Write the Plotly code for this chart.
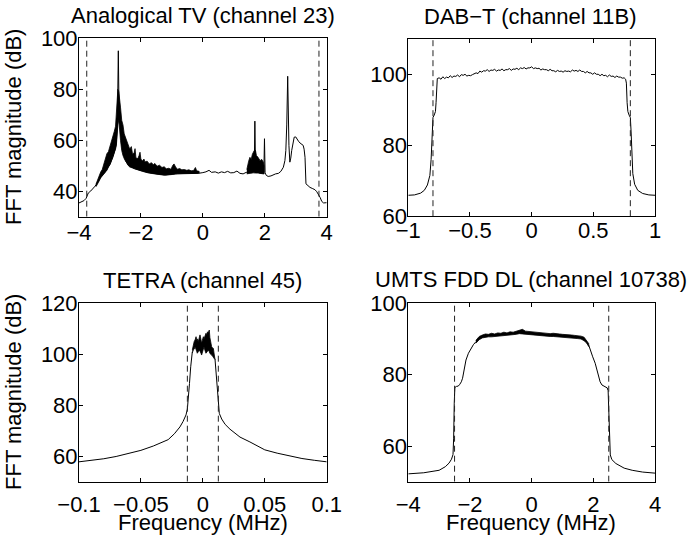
import plotly.graph_objects as go

# ---------------- data ----------------
# Panel 1: Analogical TV (channel 23)
tv_f = [-4.00, -3.92, -3.84, -3.77, -3.73, -3.70, -3.62, -3.55, -3.48, -3.40, -3.30, -3.20,
        -3.00, -2.90, -2.80, -2.76, -2.745, -2.73, -2.715, -2.70, -2.66, -2.60, -2.50, -2.40,
        -2.20, -2.00, -1.80, -1.50, -1.20, -0.90, -0.60, -0.30, -0.15,
        0.00, 0.10, 0.20, 0.28, 0.40, 0.50, 0.60, 0.70, 0.80, 0.90, 1.00, 1.10, 1.20, 1.30, 1.40,
        1.50, 1.60, 1.66, 1.68, 1.70, 1.80, 1.90, 1.97, 1.99, 2.01, 2.05, 2.11, 2.20, 2.27, 2.35,
        2.44, 2.52, 2.60, 2.65, 2.68, 2.71, 2.74, 2.76, 2.78, 2.81, 2.84, 2.87, 2.91, 2.95, 3.00,
        3.03, 3.09, 3.14, 3.20, 3.24, 3.27, 3.30, 3.33, 3.40, 3.46, 3.55, 3.62, 3.68, 3.73, 3.79,
        3.84, 3.90, 4.00]
tv_db = [35.4, 35.7, 36.3, 37.2, 38.6, 39.3, 40.1, 40.9, 42.0, 43.5, 45.6, 46.8,
         50.5, 53.5, 58.0, 66.0, 80.0, 95.1, 80.0, 72.0, 64.0, 57.0, 52.0, 50.1,
         48.8, 48.1, 47.4, 46.8, 46.4, 46.8, 46.8, 46.8, 47.0,
         47.3, 47.6, 48.2, 47.4, 47.6, 47.1, 47.6, 47.3, 47.8, 47.2, 47.3, 47.9, 47.0, 46.8, 47.4,
         47.2, 47.2, 48.0, 67.5, 50.0, 47.2, 47.0, 47.5, 60.6, 47.2, 46.2, 45.8, 46.0, 46.5, 46.8,
         47.0, 47.8, 49.4, 52.0, 56.0, 66.0, 85.1, 68.0, 58.0, 51.4, 53.0, 56.0, 59.5, 61.2, 61.3,
         60.6, 59.6, 58.9, 58.5, 58.0, 56.5, 53.3, 42.9, 42.0, 41.5, 41.0, 40.6, 39.8, 38.9, 37.5,
         36.0, 35.4, 35.5]
tv_band1_f = [-3.45, -3.40, -3.35, -3.30, -3.25, -3.20, -3.15, -3.10, -3.05, -3.00, -2.95, -2.90,
              -2.86, -2.82, -2.79, -2.76, -2.745, -2.715, -2.69, -2.66, -2.62, -2.58, -2.54, -2.50,
              -2.46, -2.41, -2.36, -2.31, -2.27, -2.22, -2.19, -2.16, -2.10, -2.06, -2.03, -2.00,
              -1.95, -1.90, -1.87, -1.80, -1.73, -1.66, -1.60, -1.55, -1.48, -1.40, -1.32, -1.25,
              -1.18, -1.10, -1.03, -0.97, -0.93, -0.88, -0.82, -0.75, -0.68, -0.60, -0.52, -0.45,
              -0.38, -0.30, -0.24, -0.20, -0.12]
tv_band1_hi = [42.8, 44.5, 45.8, 47.5, 48.5, 50.5, 52.0, 54.7, 55.5, 57.5, 59.9, 61.0,
               63.5, 65.5, 70.0, 75.0, 80.0, 79.0, 77.0, 73.0, 67.8, 66.0, 62.5, 61.2,
               60.0, 58.6, 56.5, 57.5, 54.5, 55.0, 56.7, 53.0, 52.8, 54.0, 55.3, 52.5,
               52.0, 52.6, 51.5, 51.8, 50.7, 51.2, 50.4, 50.9, 49.8, 50.2, 49.3, 49.6,
               48.8, 49.0, 48.6, 50.2, 50.7, 49.5, 48.6, 48.9, 48.4, 48.5, 48.2, 48.4,
               48.0, 48.1, 49.3, 48.0, 47.8]
tv_band1_lo = [41.8, 43.0, 44.0, 45.2, 45.8, 46.8, 47.5, 48.1, 49.5, 50.5, 52.0, 53.5,
               55.0, 56.5, 58.5, 61.0, 66.0, 68.0, 64.0, 60.0, 56.0, 54.0, 52.8, 52.0,
               51.0, 50.1, 49.5, 49.3, 49.2, 49.0, 48.8, 48.6, 48.4, 48.2, 48.1, 48.0,
               47.8, 47.6, 47.4, 47.3, 47.1, 47.0, 46.9, 46.8, 46.6, 46.5, 46.4, 46.3,
               46.2, 46.4, 46.5, 46.6, 46.8, 46.8, 46.9, 47.0, 47.0, 47.0, 46.9, 47.0,
               47.0, 46.9, 47.0, 47.1, 47.1]
tv_band2_f = [1.42, 1.45, 1.48, 1.52, 1.56, 1.60, 1.63, 1.66, 1.70, 1.73, 1.77, 1.81, 1.85,
              1.90, 1.95, 1.98]
tv_band2_hi = [48.5, 50.7, 51.8, 53.3, 52.4, 54.5, 55.3, 56.0, 56.0, 54.0, 53.5, 52.5, 52.0,
               52.5, 51.5, 50.0]
tv_band2_lo = [46.8, 46.9, 47.0, 47.0, 47.1, 47.2, 47.2, 47.3, 47.2, 47.2, 47.1, 47.1, 47.0,
               47.0, 46.8, 46.8]
tv_edges = [-3.75, 3.75]

# Panel 2: DAB-T (channel 11B)
dab_f = [-1.00, -0.95, -0.90, -0.87, -0.845, -0.825, -0.815, -0.808, -0.80, -0.79, -0.78, -0.775,
         -0.77, -0.765, -0.75, -0.735, -0.72, -0.705, -0.69, -0.675, -0.66, -0.645, -0.63, -0.615,
         -0.60, -0.585, -0.57, -0.555, -0.54, -0.525, -0.51, -0.495, -0.48, -0.465, -0.45, -0.435,
         -0.42, -0.405, -0.39, -0.375, -0.36, -0.345, -0.33, -0.315, -0.30, -0.285, -0.27, -0.255,
         -0.24, -0.225, -0.21, -0.195, -0.18, -0.165, -0.15, -0.135, -0.12, -0.105, -0.09, -0.075,
         -0.06, -0.045, -0.03, -0.015, 0.0, 0.015, 0.03, 0.045, 0.06, 0.075, 0.09, 0.105, 0.12,
         0.135, 0.15, 0.165, 0.18, 0.195, 0.21, 0.225, 0.24, 0.255, 0.27, 0.285, 0.30, 0.315, 0.33,
         0.345, 0.36, 0.375, 0.39, 0.405, 0.42, 0.435, 0.45, 0.465, 0.48, 0.495, 0.51, 0.525, 0.54,
         0.555, 0.57, 0.585, 0.60, 0.615, 0.63, 0.645, 0.66, 0.675, 0.69, 0.705, 0.72, 0.735, 0.75,
         0.762, 0.768, 0.774, 0.78, 0.79, 0.80, 0.806, 0.812, 0.82, 0.835, 0.86, 0.90, 0.95, 1.00]
dab_db = [65.9, 66.0, 66.5, 67.3, 68.8, 71.5, 76.0, 84.0, 87.8, 88.5, 89.5, 92.0,
          97.5, 98.8, 99.0, 98.6, 99.3, 98.8, 99.2, 99.0, 99.6, 99.1, 99.5, 99.4,
          99.8, 99.3, 99.9, 99.7, 100.0, 99.5, 99.7, 99.6, 99.9, 100.1, 100.4, 100.2,
          100.9, 100.6, 101.0, 100.9, 101.3, 100.8, 101.2, 101.1, 101.4, 100.9, 101.2, 101.1,
          101.5, 101.0, 101.3, 101.3, 101.6, 101.1, 101.5, 101.4, 101.7, 101.3, 101.8, 101.6,
          101.9, 101.5, 101.8, 101.8, 102.1, 101.6, 101.8, 101.6, 101.7, 101.2, 101.5, 101.3, 101.3,
          101.0, 101.4, 101.0, 101.0, 100.7, 101.1, 100.8, 100.9, 100.6, 101.0, 100.8, 100.9, 100.7, 101.2,
          100.9, 101.1, 100.8, 101.2, 100.8, 100.8, 100.4, 100.8, 100.4, 100.4, 100.0, 100.4, 100.0, 100.0,
          99.6, 100.0, 99.6, 99.7, 99.3, 99.8, 99.4, 99.5, 99.1, 99.5, 99.2, 99.2, 98.9, 99.0,
          98.6, 97.5, 92.0, 89.5, 88.5, 87.8, 84.0, 77.0, 72.0, 69.0, 67.3, 66.4, 66.0, 65.9]
dab_edges = [-0.8, 0.8]

# Panel 3: TETRA (channel 45) - skirts left/right of the noisy top band
tetra_left_f = [-0.100, -0.090, -0.080, -0.070, -0.060, -0.050, -0.040, -0.032, -0.028, -0.023,
                -0.0185, -0.016, -0.0136, -0.0125, -0.0117, -0.0108, -0.0098, -0.0090, -0.0085]
tetra_left_db = [57.8, 58.3, 59.0, 59.9, 61.0, 62.3, 64.0, 65.6, 66.5, 68.8,
                 71.5, 73.6, 76.2, 78.5, 82.1, 88.5, 95.1, 99.5, 101.0]
tetra_right_f = [0.0098, 0.0106, 0.0117, 0.0126, 0.0133, 0.0152, 0.0180, 0.0219, 0.030, 0.038,
                 0.050, 0.060, 0.070, 0.080, 0.090, 0.100]
tetra_right_db = [98.2, 92.5, 84.7, 79.5, 76.8, 74.6, 72.5, 70.6, 67.5, 65.6,
                  62.5, 61.2, 60.1, 59.1, 58.4, 57.8]
tetra_band_f = [-0.0085, -0.0077, -0.0070, -0.0063, -0.0055, -0.0050, -0.0045, -0.0037, -0.0028,
                -0.0023, -0.0016, -0.0010, -0.0004, 0.0004, 0.0009, 0.0017, 0.0025, 0.0031, 0.0038,
                0.0044, 0.0052, 0.0057, 0.0063, 0.0071, 0.0078, 0.0085, 0.0090, 0.0098]
tetra_band_hi = [101.7, 104.3, 105.0, 105.6, 106.9, 105.8, 106.0, 105.0, 106.5,
                 107.6, 106.0, 104.3, 105.5, 106.9, 106.0, 107.5, 108.2, 107.8, 108.8,
                 108.5, 109.5, 106.5, 104.3, 103.0, 102.5, 102.3, 100.5, 98.4]
tetra_band_lo = [100.5, 101.7, 102.0, 103.0, 102.2, 101.2, 100.4, 101.0, 101.7,
                 101.2, 100.5, 99.7, 100.8, 102.0, 103.0, 101.5, 100.4, 100.8, 101.2,
                 101.7, 101.0, 100.3, 100.0, 99.7, 99.3, 99.0, 98.4, 98.0]
tetra_edges = [-0.0125, 0.0125]

# Panel 4: UMTS FDD DL (channel 10738) - skirts left/right of the noisy top band
umts_left_f = [-4.0, -3.5, -3.0, -2.8, -2.68, -2.6, -2.55, -2.53, -2.51, -2.49, -2.44, -2.38, -2.33,
               -2.28, -2.24, -2.19, -2.13, -2.05, -1.97, -1.89, -1.81]
umts_left_db = [52.2, 52.5, 53.2, 54.2, 55.2, 56.3, 57.6, 62.0, 72.0, 76.4, 76.7, 76.8, 77.3,
                78.0, 79.0, 81.5, 84.1, 86.0, 87.4, 88.4, 89.2]
umts_right_f = [1.85, 1.90, 1.98, 2.06, 2.12, 2.17, 2.22, 2.28, 2.33, 2.39, 2.45, 2.48, 2.50, 2.52,
                2.55, 2.60, 2.73, 3.0, 3.26, 3.6, 4.0]
umts_right_db = [88.3, 86.9, 85.0, 83.2, 81.2, 79.4, 78.0, 77.1, 76.8, 76.6, 76.3, 75.5, 70.0, 62.0,
                 57.5, 56.2, 55.1, 53.8, 53.2, 52.7, 52.4]
umts_band_f = [-1.81, -1.70, -1.60, -1.50, -1.40, -1.30, -1.20, -1.10, -1.00, -0.90, -0.80,
               -0.70, -0.60, -0.50, -0.40, -0.30, -0.20, -0.10, 0.00, 0.10, 0.20, 0.30, 0.40,
               0.50, 0.60, 0.70, 0.80, 0.90, 1.00, 1.10, 1.20, 1.30, 1.40, 1.50, 1.60, 1.70,
               1.78, 1.85]
umts_band_hi = [89.6, 90.7, 91.1, 91.4, 91.3, 91.6, 91.4, 91.7, 91.6, 91.9, 91.7,
                92.0, 91.9, 92.2, 92.3, 92.7, 92.2, 92.1, 92.0, 91.9, 91.8, 91.8, 91.6,
                91.7, 91.5, 91.6, 91.4, 91.4, 91.3, 91.3, 91.1, 91.1, 91.0, 91.0, 90.8, 90.5,
                89.7, 88.7]
umts_band_lo = [88.8, 89.8, 90.3, 90.4, 90.6, 90.6, 90.5, 90.8, 90.9, 91.0, 90.9,
                91.1, 91.2, 91.3, 91.5, 91.6, 91.4, 91.3, 91.2, 91.1, 91.0, 90.9, 90.8,
                90.8, 90.7, 90.7, 90.6, 90.5, 90.5, 90.4, 90.3, 90.2, 90.2, 90.1, 90.0, 89.5,
                88.9, 87.9]
umts_edges = [-2.5, 2.5]

# axis limits and ticks
xlims = [[-4, 4], [-1, 1], [-0.1, 0.1], [-4, 4]]
ylims = [[30, 100], [60, 110], [50, 120], [50, 100]]
xticks = [[-4, -2, 0, 2, 4], [-1, -0.5, 0, 0.5, 1], [-0.1, -0.05, 0, 0.05, 0.1], [-4, -2, 0, 2, 4]]
yticks = [[40, 60, 80, 100], [60, 80, 100], [60, 80, 100, 120], [60, 80, 100]]
titles = ["Analogical TV (channel 23)", "DAB\u2212T (channel 11B)",
          "TETRA (channel 45)", "UMTS FDD DL (channel 10738)"]
ylabel = "FFT magnitude (dB)"
xlabel = "Frequency (MHz)"

# ---------------- figure ----------------
W, H = 698, 541
FONT = "Liberation Sans, Arial, Helvetica, sans-serif"
FS = 22

# plot boxes in pixels: (left, right, top, bottom)
boxes = [(79, 326.7, 38.3, 216.7), (408.3, 655, 38.8, 216.2),
         (79, 326.7, 303.3, 481.7), (408.3, 655, 303.3, 481.7)]

fig = go.Figure()
LINE = dict(color="black", width=1)


def band(fl, hi, lo, ax):
    fig.add_trace(go.Scatter(x=fl + fl[::-1], y=hi + lo[::-1], mode="lines", fill="toself",
                             fillcolor="black", line=dict(color="black", width=0.8),
                             xaxis=ax[0], yaxis=ax[1], hoverinfo="skip", showlegend=False))


def curve(fl, vals, ax):
    fig.add_trace(go.Scatter(x=fl, y=vals, mode="lines", line=LINE,
                             xaxis=ax[0], yaxis=ax[1], showlegend=False))


def edges(e, ylim, ax):
    for v in e:
        fig.add_trace(go.Scatter(x=[v, v], y=ylim, mode="lines",
                                 line=dict(color="#222222", width=1, dash="6px,4px"),
                                 xaxis=ax[0], yaxis=ax[1], hoverinfo="skip", showlegend=False))


axes = [("x", "y"), ("x2", "y2"), ("x3", "y3"), ("x4", "y4")]

curve(tv_f, tv_db, axes[0])
band(tv_band1_f, tv_band1_hi, tv_band1_lo, axes[0])
band(tv_band2_f, tv_band2_hi, tv_band2_lo, axes[0])
edges(tv_edges, ylims[0], axes[0])

curve(dab_f, dab_db, axes[1])
edges(dab_edges, ylims[1], axes[1])

curve(tetra_left_f, tetra_left_db, axes[2])
band(tetra_band_f, tetra_band_hi, tetra_band_lo, axes[2])
curve(tetra_right_f, tetra_right_db, axes[2])
edges(tetra_edges, ylims[2], axes[2])

curve(umts_left_f, umts_left_db, axes[3])
band(umts_band_f, umts_band_hi, umts_band_lo, axes[3])
curve(umts_right_f, umts_right_db, axes[3])
edges(umts_edges, ylims[3], axes[3])

layout = dict(width=W, height=H, margin=dict(l=0, r=0, t=0, b=0, pad=0, autoexpand=False),
              paper_bgcolor="white", plot_bgcolor="white",
              font=dict(family=FONT, size=FS, color="black"), showlegend=False)

xstand = [-4, -6, 3, 3]
for i, (l, r, t, b) in enumerate(boxes):
    sfx = "" if i == 0 else str(i + 1)
    common = dict(showline=True, linecolor="black", linewidth=1, mirror="ticks",
                  ticks="inside", ticklen=4, tickcolor="black", tickwidth=1,
                  showgrid=False, zeroline=False, automargin=False,
                  tickfont=dict(family=FONT, size=FS))
    layout["xaxis" + sfx] = dict(domain=[l / W, r / W], range=xlims[i], tickvals=xticks[i],
                                 anchor="y" + sfx, ticklabelstandoff=xstand[i], **common)
    layout["yaxis" + sfx] = dict(domain=[1 - b / H, 1 - t / H], range=ylims[i], tickvals=yticks[i],
                                 anchor="x" + sfx, ticklabelstandoff=-4, **common)

ann = []
title_pos = [(202.8, 15), (530.5, 17), (202.8, 280), (531, 279.5)]
for (x, y), txt in zip(title_pos, titles):
    ann.append(dict(text=txt, x=x / W, y=1 - y / H, xref="paper", yref="paper",
                    xanchor="center", yanchor="middle", showarrow=False,
                    font=dict(family=FONT, size=FS)))
for y in (127.5, 392.5):
    ann.append(dict(text=ylabel, x=13.5 / W, y=1 - y / H, xref="paper", yref="paper",
                    xanchor="center", yanchor="middle", textangle=-90, showarrow=False,
                    font=dict(family=FONT, size=FS)))
for x in (202.8, 531):
    ann.append(dict(text=xlabel, x=x / W, y=1 - 522 / H, xref="paper", yref="paper",
                    xanchor="center", yanchor="middle", showarrow=False,
                    font=dict(family=FONT, size=FS)))
layout["annotations"] = ann

fig.update_layout(**layout)
fig.write_html("out.html", config={"displayModeBar": False, "staticPlot": True},
               post_script="document.body.style.margin='0px';document.body.style.overflow='hidden';")
